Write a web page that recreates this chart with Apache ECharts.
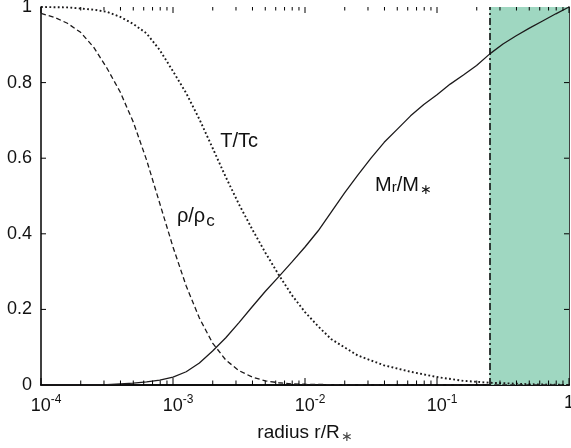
<!DOCTYPE html>
<html><head><meta charset="utf-8">
<script src="https://cdn.jsdelivr.net/npm/echarts@6/dist/echarts.min.js"></script>
<style>html,body{margin:0;padding:0;background:#fff}#c{width:571px;height:448px}</style>
</head><body><div id="c"></div>
<script>
// radius r/R* values and curves
const rhoR = [1e-4,1.259e-4,1.585e-4,1.995e-4,2.512e-4,3.162e-4,3.981e-4,5.012e-4,6.31e-4,7.943e-4,1e-3,1.259e-3,1.585e-3,1.995e-3,2.512e-3,3.162e-3,3.981e-3,5.012e-3,6.31e-3,7.943e-3,1e-2,1.585e-2,3.162e-2,0.25,1];
const rhoV = [0.983,0.973,0.957,0.933,0.893,0.838,0.775,0.695,0.595,0.480,0.365,0.262,0.177,0.111,0.066,0.038,0.021,0.011,0.006,0.003,0.002,0.001,0,0,0];

const tempR = [1e-4,1.585e-4,2.512e-4,3.162e-4,3.981e-4,5.012e-4,6.31e-4,7.943e-4,1e-3,1.259e-3,1.585e-3,1.995e-3,2.512e-3,3.162e-3,3.981e-3,5.012e-3,6.31e-3,7.943e-3,1e-2,1.259e-2,1.585e-2,2.512e-2,3.981e-2,6.31e-2,0.1,0.1585,0.2512,0.5012,1];
const tempV = [1.000,0.999,0.993,0.987,0.974,0.955,0.930,0.886,0.830,0.772,0.703,0.627,0.550,0.478,0.412,0.350,0.292,0.238,0.193,0.155,0.121,0.078,0.052,0.035,0.021,0.011,0.006,0.002,0.000];

const massR = [1e-4,2.512e-4,3.162e-4,3.981e-4,5.012e-4,6.31e-4,7.943e-4,1e-3,1.259e-3,1.585e-3,1.995e-3,2.512e-3,3.162e-3,3.981e-3,5.012e-3,6.31e-3,7.943e-3,1e-2,1.259e-2,1.585e-2,1.995e-2,2.512e-2,3.162e-2,3.981e-2,5.012e-2,6.31e-2,7.943e-2,0.1,0.1259,0.1585,0.1995,0.2512,0.3162,0.3981,0.5012,0.631,0.7943,1];
const massV = [0,0.000,0.001,0.003,0.005,0.008,0.013,0.021,0.035,0.058,0.090,0.125,0.165,0.207,0.248,0.286,0.325,0.365,0.408,0.458,0.508,0.555,0.600,0.642,0.677,0.712,0.742,0.768,0.796,0.820,0.845,0.876,0.902,0.924,0.944,0.963,0.982,1.0];

const convBoundary = 0.25;   // start of shaded zone
const xMin = 1e-4, xMax = 1;
const majorTicks = [1e-4, 1e-3, 1e-2, 1e-1, 1];
const yTickVals = [0.2, 0.4, 0.6, 0.8];
const minorTicks = [];
for (let d = -4; d <= -1; d++) for (let k = 2; k <= 9; k++) minorTicks.push(k * Math.pow(10, d));

// annotations: [rich text, x, y (cap centre)]
const notes = [
  ['{n|T/Tc}', 2.28e-3, 0.645],
  ['{n|ρ/ρ}{sub|c}', 1.07e-3, 0.445],
  ['{n|M}{r|r}{n|/M}{ast|∗}', 0.0339, 0.528]
];

const pair = (xs, ys) => xs.map((x, i) => [x, ys[i]]);
const FONT = '"Liberation Sans", Arial, Helvetica, sans-serif';
const BLK = '#1c1a1b';

const chart = echarts.init(document.getElementById('c'), null, {renderer: 'canvas'});

const supFmt = v => {
  const e = Math.round(Math.log10(v));
  if (e === 0) return '{b0|1}';
  return '{b|10}{s|' + e + '}';
};

// rows: [value, kind (0 = x tick, 1 = y tick), length]
const tickData = majorTicks.map(v => [v, 0, 6])
  .concat(minorTicks.map(v => [v, 0, 3.5]))
  .concat(yTickVals.map(v => [v, 1, 5]));

const option = {
  animation: false,
  grid: {left: 41, right: 2, top: 7, bottom: 63, containLabel: false, outerBoundsMode: 'none'},
  xAxis: [{
    type: 'log', logBase: 10, min: xMin, max: xMax, position: 'bottom',
    axisLine: {lineStyle: {color: '#000', width: 1.5}},
    axisTick: {show: false},
    splitLine: {show: false},
    axisLabel: {
      margin: 9, formatter: supFmt, fontFamily: FONT, color: '#111',
      rich: {
        b: {fontSize: 18, fontFamily: FONT, color: '#111', padding: [0, 0, 0, 10]},
        b0: {fontSize: 18, fontFamily: FONT, color: '#111'},
        s: {fontSize: 12, fontFamily: FONT, color: '#111', padding: [0, 0, 12, 0]}
      }
    },
    name: '{t|radius r/R}{a|∗}', nameLocation: 'middle', nameGap: 37,
    nameTextStyle: {
      rich: {
        t: {fontSize: 19, fontFamily: FONT, color: '#111'},
        a: {fontSize: 14, fontFamily: FONT, color: '#444', padding: [8, 0, 0, 1]}
      }
    }
  }, {
    type: 'log', logBase: 10, min: xMin, max: xMax, position: 'top',
    axisLine: {lineStyle: {color: '#000', width: 1.5}},
    axisTick: {show: false},
    axisLabel: {show: false}, splitLine: {show: false}
  }],
  yAxis: [{
    type: 'value', min: 0, max: 1, interval: 0.2, position: 'left',
    axisLine: {show: true, lineStyle: {color: '#000', width: 1.5}},
    axisTick: {show: false},
    splitLine: {show: false},
    axisLabel: {margin: 9, fontSize: 18, fontFamily: FONT, color: '#111',
      formatter: v => String(Math.round(v * 10) / 10)}
  }, {
    type: 'value', min: 0, max: 1, interval: 0.2, position: 'right',
    axisLine: {show: true, lineStyle: {color: '#000', width: 1.5}},
    axisTick: {show: false},
    splitLine: {show: false}, axisLabel: {show: false}
  }],
  series: [
    {
      type: 'line', data: [], z: 1, silent: true,
      markArea: {silent: true, itemStyle: {color: '#9fd7c1', opacity: 1},
        data: [[{xAxis: convBoundary}, {xAxis: xMax}]]},
      markLine: {silent: true, symbol: 'none', label: {show: false},
        lineStyle: {color: '#111', width: 1.6, type: [7, 3, 2, 3]},
        data: [{xAxis: convBoundary}]}
    },
    {
      name: 'rho', type: 'line', data: pair(rhoR, rhoV), showSymbol: false, smooth: false, z: 3,
      lineStyle: {color: BLK, width: 1.3, type: [5, 3]}
    },
    {
      name: 'T', type: 'line', data: pair(tempR, tempV), showSymbol: false, smooth: false, z: 3,
      lineStyle: {color: BLK, width: 1.9, type: [1.8, 2.4]}
    },
    {
      name: 'M', type: 'line', data: pair(massR, massV), showSymbol: false, smooth: false, z: 4,
      lineStyle: {color: BLK, width: 1.3}
    },
    {
      type: 'custom', z: 20, silent: true, clip: false,
      data: tickData.map(d => [d[0], 0.5, d[1], d[2]]),
      encode: {x: 0, y: 1},
      renderItem: (params, api) => {
        const v = api.value(0);
        const kind = api.value(2);
        const len = api.value(3);
        if (kind === 1) {
          const l = api.coord([xMin, v]);
          const r = api.coord([xMax, v]);
          return {type: 'group', children: [
            {type: 'rect', shape: {x: l[0], y: l[1] - 0.5, width: len, height: 1}, style: {fill: '#000'}},
            {type: 'rect', shape: {x: r[0] - len, y: r[1] - 0.5, width: len, height: 1}, style: {fill: '#000'}}
          ]};
        }
        const b = api.coord([v, 0]);
        const t = api.coord([v, 1]);
        return {type: 'group', children: [
          {type: 'rect', shape: {x: b[0] - 0.5, y: b[1] - len - 1, width: 1, height: len + 1}, style: {fill: '#000'}},
          {type: 'rect', shape: {x: t[0] - 0.5, y: t[1], width: 1, height: len}, style: {fill: '#000'}}
        ]};
      }
    }
  ]
};
chart.setOption(option);

const richNote = {
  n: {fontSize: 20, fontFamily: FONT, color: '#111'},
  r: {fontSize: 15, fontFamily: FONT, color: '#111', padding: [4, 0, 0, 0]},
  sub: {fontSize: 17, fontFamily: FONT, color: '#111', padding: [10, 0, 0, 1]},
  ast: {fontSize: 14, fontFamily: FONT, color: '#555', padding: [10, 0, 0, 1]}
};
chart.setOption({
  graphic: notes.map(([txt, x, y]) => {
    const p = chart.convertToPixel({xAxisIndex: 0, yAxisIndex: 0}, [x, y]);
    return {type: 'text', x: p[0], y: p[1], z: 10,
      style: {text: txt, rich: richNote, verticalAlign: 'middle', align: 'left', fontFamily: FONT, fontSize: 20, fill: '#111'}};
  })
});
</script></body></html>
